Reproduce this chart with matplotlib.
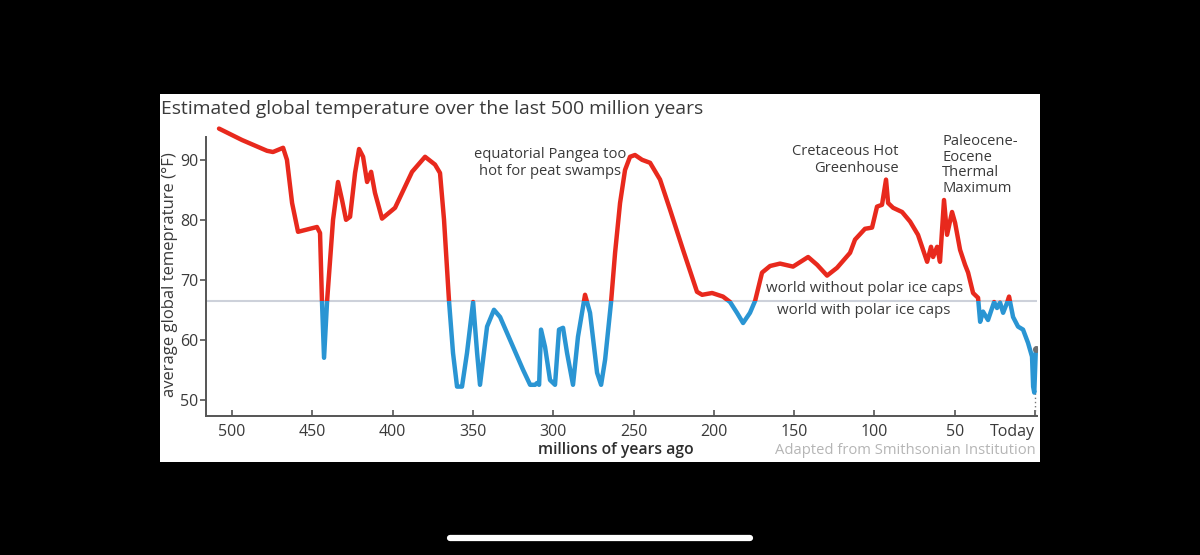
import matplotlib
matplotlib.use('Agg')
import matplotlib.pyplot as plt
from matplotlib.patches import Rectangle
from matplotlib.lines import Line2D

# ─── Data ───
ages = [508.1, 493.8, 478.2, 474.5, 468.2, 465.8, 462.6, 458.9, 454.5, 447.1,
        445.2, 444.0, 442.7, 440.8, 437.1, 434.0, 431.5, 429.0, 426.5, 423.4,
        420.9, 418.4, 415.9, 413.4, 411.0, 406.6, 398.5, 387.9, 379.8, 373.6,
        370.5, 368.0, 366.1, 364.9, 362.4, 359.9, 356.8, 353.7, 349.9, 347.4,
        345.6, 341.2, 336.9, 333.1, 326.9, 318.8, 314.4, 311.3, 310.1, 308.8,
        307.6, 305.1, 302.0, 298.9, 296.4, 293.9, 291.4, 287.7, 284.6, 280.2,
        277.1, 272.7, 270.2, 267.7, 264.0, 261.5, 258.4, 255.3, 252.2, 249.1,
        244.7, 239.7, 233.5, 227.3, 219.2, 210.5, 207.3, 201.1, 194.3, 189.9,
        185.6, 181.8, 177.5, 174.3, 170.0, 165.0, 158.8, 150.7, 141.3, 135.7,
        129.5, 123.3, 115.2, 112.1, 105.9, 101.5, 98.4, 95.3, 92.8, 91.5,
        88.4, 82.8, 77.8, 72.9, 69.7, 67.2, 64.8, 63.5, 61.0, 59.2,
        56.7, 54.8, 51.7, 49.8, 46.7, 43.6, 41.7, 38.6, 35.5, 34.2,
        32.4, 29.3, 25.5, 23.7, 21.8, 19.9, 17.4, 16.2, 13.7, 10.6,
        7.5, 4.4, 1.9, 1.2, 0.5, -0.5]
temps = [95.2, 93.3, 91.5, 91.3, 92.0, 90.0, 82.8, 78.0, 78.3, 78.8,
         77.8, 66.5, 57.0, 66.5, 80.0, 86.3, 83.3, 80.0, 80.5, 87.8,
         91.8, 90.5, 86.3, 88.0, 84.5, 80.2, 82.0, 88.0, 90.5, 89.2,
         87.8, 80.0, 71.7, 66.5, 57.8, 52.2, 52.2, 57.8, 66.3, 57.8,
         52.5, 62.2, 65.0, 63.8, 60.0, 55.0, 52.5, 52.5, 52.8, 52.5,
         61.7, 58.8, 53.3, 52.5, 61.7, 62.0, 57.8, 52.5, 60.5, 67.5,
         64.5, 54.5, 52.5, 56.7, 66.3, 74.5, 82.8, 88.3, 90.5, 90.8,
         90.0, 89.5, 86.7, 81.7, 75.0, 68.0, 67.5, 67.8, 67.2, 66.3,
         64.5, 62.8, 64.5, 66.5, 71.2, 72.3, 72.7, 72.2, 73.8, 72.5,
         70.7, 72.0, 74.5, 76.7, 78.5, 78.7, 82.2, 82.5, 86.7, 82.8,
         82.0, 81.3, 79.7, 77.5, 75.0, 73.0, 75.5, 73.8, 75.5, 73.0,
         83.3, 77.5, 81.3, 79.5, 75.0, 72.5, 71.2, 67.8, 67.0, 63.0,
         64.7, 63.3, 66.3, 65.3, 66.2, 64.5, 66.2, 67.2, 63.8, 62.2,
         61.7, 59.5, 57.2, 52.2, 51.2, 58.5]

ice_cap_temp = 66.5
y_ticks = [50, 60, 70, 80, 90]
x_ticks = [500, 450, 400, 350, 300, 250, 200, 150, 100, 50, 0]
x_labels = ['500', '450', '400', '350', '300', '250', '200', '150', '100', '50', 'Today']

RED = '#e8291d'
BLUE = '#2a95d3'
TEXT = '#3a3a3a'

plt.rcParams['font.family'] = ['Open Sans', 'DejaVu Sans']

fig = plt.figure(figsize=(12, 5.55), dpi=100)
fig.patch.set_facecolor('black')

# white card behind the chart
fig.patches.append(Rectangle((160 / 1200, 93 / 555), 880 / 1200, 368 / 555,
                             transform=fig.transFigure, facecolor='white',
                             edgecolor='none', zorder=-1))

ax = fig.add_axes([206 / 1200, 139 / 555, 831 / 1200, 295.2 / 555])
ax.set_zorder(2)
ax.set_facecolor('none')
ax.set_xlim(516.2, -1.2)
ax.set_ylim(47.3, 96.5)

# threshold between "with" and "without" polar ice caps
ax.axhline(ice_cap_temp, color='#cdd1da', lw=1.5, zorder=1)

red_line, = ax.plot(ages, temps, color=RED, lw=3.2, zorder=3,
                    solid_joinstyle='round', solid_capstyle='round')
blue_line, = ax.plot(ages, temps, color=BLUE, lw=3.2, zorder=3,
                     solid_joinstyle='round', solid_capstyle='round')
red_line.set_clip_path(Rectangle((-10, ice_cap_temp), 600, 100, transform=ax.transData))
blue_line.set_clip_path(Rectangle((-10, 0), 600, ice_cap_temp, transform=ax.transData))

# today marker
ax.plot([0, 0], [temps[-2], 47.3], color='#777777', lw=1, ls=(0, (1, 2)), zorder=2)
ax.plot([ages[-1]], [temps[-1]], marker='o', ms=4, color='#6f6f6f', zorder=4)

for side in ('top', 'right'):
    ax.spines[side].set_visible(False)
ax.spines['left'].set_bounds(47.3, 93.8)
for side in ('left', 'bottom'):
    ax.spines[side].set_color('#555555')
    ax.spines[side].set_linewidth(1.4)

ax.set_yticks(y_ticks)
ax.set_xticks(x_ticks)
ax.set_xticklabels(x_labels)
ax.get_xticklabels()[-1].set_horizontalalignment('right')
ax.tick_params(axis='y', direction='out', length=4, width=1.2, color='#555555',
               labelsize=11.5, labelcolor=TEXT, pad=1.5)
ax.tick_params(axis='x', direction='in', length=4, width=1.2, color='#555555',
               labelsize=11.5, labelcolor=TEXT, pad=6)

# titles and labels
fig.text(161 / 1200, 1 - 109 / 555, 'Estimated global temperature over the last 500 million years',
         fontsize=13.9, color=TEXT, ha='left', va='center')
fig.text(170 / 1200, 1 - 275 / 555, 'average global temeprature (°F)', rotation=90,
         fontsize=12, color=TEXT, ha='center', va='center')
fig.text(616 / 1200, 1 - 450 / 555, 'millions of years ago', fontsize=11.3,
         color='#2e2e2e', ha='center', va='center', fontweight='semibold')
fig.text(1036 / 1200, 1 - 450 / 555, 'Adapted from Smithsonian Institution', fontsize=10.6,
         color='#b5b5b5', ha='right', va='center')

# annotations
fig.text(550 / 1200, 1 - 163 / 555, 'equatorial Pangea too\nhot for peat swamps',
         fontsize=10.6, color=TEXT, ha='center', va='center', linespacing=1.1)
fig.text(899 / 1200, 1 - 160 / 555, 'Cretaceous Hot\nGreenhouse',
         fontsize=10.6, color=TEXT, ha='right', va='center', linespacing=1.1)
fig.text(942 / 1200, 1 - 165 / 555, 'Paleocene-\nEocene\nThermal\nMaximum',
         fontsize=10.6, color=TEXT, ha='left', va='center', linespacing=1.05)
fig.text(865 / 1200, 1 - 289 / 555, 'world without polar ice caps',
         fontsize=10.8, color=TEXT, ha='center', va='center')
fig.text(864 / 1200, 1 - 311 / 555, 'world with polar ice caps',
         fontsize=10.8, color=TEXT, ha='center', va='center')

# phone home indicator
fig.lines.append(Line2D([450 / 1200, 750 / 1200], [17 / 555, 17 / 555],
                        transform=fig.transFigure, color='white', lw=4.5,
                        solid_capstyle='round'))

fig.savefig('out.png', dpi=100, facecolor='black')
